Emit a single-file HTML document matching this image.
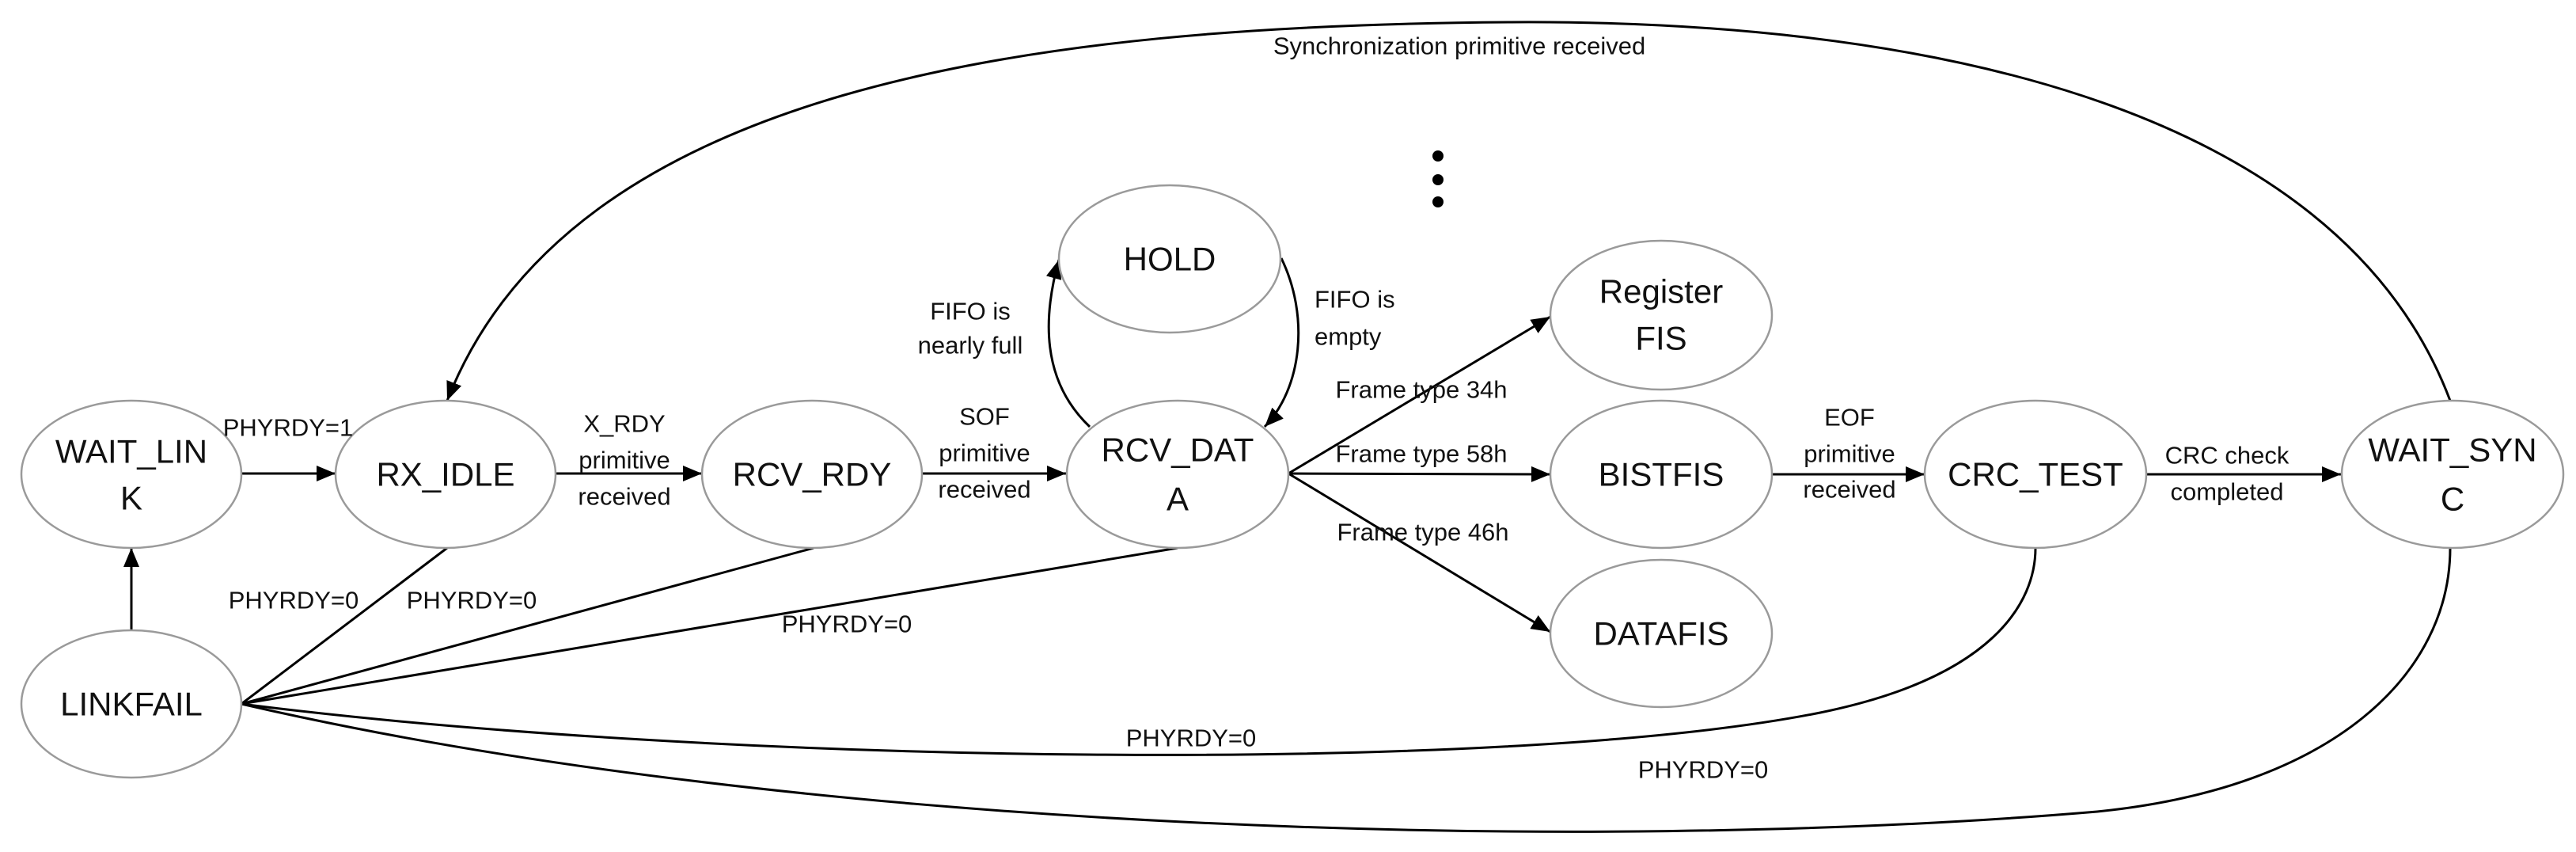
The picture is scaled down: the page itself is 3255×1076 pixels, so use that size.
<!DOCTYPE html>
<html><head><meta charset="utf-8"><style>
html,body{margin:0;padding:0;background:#fff;}
svg{display:block;}
text{font-family:"Liberation Sans",sans-serif;fill:#111;}
.n{font-size:42px;text-anchor:middle;dominant-baseline:central;}
.l{font-size:31px;text-anchor:middle;dominant-baseline:central;}
.e{fill:#fff;stroke:#9a9a9a;stroke-width:2.5;}
.c{fill:none;stroke:#000;stroke-width:3;}
</style></head><body>
<svg width="3255" height="1076" viewBox="0 0 3255 1076" xmlns="http://www.w3.org/2000/svg">
<defs>
<marker id="a" markerWidth="12" markerHeight="10" refX="11" refY="5" orient="auto" markerUnits="userSpaceOnUse" viewBox="0 0 12 10">
</marker>
<marker id="ar" viewBox="0 0 24 20" refX="24" refY="10" markerWidth="24" markerHeight="20" orient="auto" markerUnits="userSpaceOnUse"><path d="M0,0 L24,10 L0,20 Z" fill="#000"/></marker>
</defs>

<!-- connectors -->
<path class="c" d="M305,598 L424,598" marker-end="url(#ar)"/>
<path class="c" d="M166,795 L166,692" marker-end="url(#ar)"/>
<path class="c" d="M702,598 L887,598" marker-end="url(#ar)"/>
<path class="c" d="M1165,598 L1347,598" marker-end="url(#ar)"/>
<path class="c" d="M1377,539 C1315,480 1318,400 1338,328" marker-end="url(#ar)"/>
<path class="c" d="M1619,326 C1655,400 1645,490 1598,539" marker-end="url(#ar)"/>
<path class="c" d="M1628,598 L1959,400" marker-end="url(#ar)"/>
<path class="c" d="M1628,598 L1959,599" marker-end="url(#ar)"/>
<path class="c" d="M1628,598 L1959,798" marker-end="url(#ar)"/>
<path class="c" d="M2239,599 L2432,599" marker-end="url(#ar)"/>
<path class="c" d="M2713,599 L2958,599" marker-end="url(#ar)"/>
<path class="c" d="M305,889 L565,692"/>
<path class="c" d="M305,889 L1028,692"/>
<path class="c" d="M305,889 L1488,692"/>
<path class="c" d="M305,889 C900,965 1900,980 2300,900 C2520,855 2572,760 2572,692"/>
<path class="c" d="M305,889 C1000,1050 2000,1080 2650,1025 C2950,995 3096,850 3096,692"/>
<path class="c" d="M3096,506 C2950,120 2400,25 1909,28 C1300,32 720,110 565,506" marker-end="url(#ar)"/>

<!-- nodes -->
<ellipse class="e" cx="166" cy="599" rx="139" ry="93"/>
<text class="n" x="166" y="570">WAIT_LIN</text><text class="n" x="166" y="629">K</text>
<ellipse class="e" cx="563" cy="599" rx="139" ry="93"/>
<text class="n" x="563" y="599">RX_IDLE</text>
<ellipse class="e" cx="1026" cy="599" rx="139" ry="93"/>
<text class="n" x="1026" y="599">RCV_RDY</text>
<ellipse class="e" cx="166" cy="889" rx="139" ry="93"/>
<text class="n" x="166" y="889">LINKFAIL</text>
<ellipse class="e" cx="1478" cy="327" rx="140" ry="93"/>
<text class="n" x="1478" y="327">HOLD</text>
<ellipse class="e" cx="1488" cy="599" rx="140" ry="93"/>
<text class="n" x="1488" y="568">RCV_DAT</text><text class="n" x="1488" y="630">A</text>
<ellipse class="e" cx="2099" cy="398" rx="140" ry="94"/>
<text class="n" x="2099" y="368">Register</text><text class="n" x="2099" y="427">FIS</text>
<ellipse class="e" cx="2099" cy="599" rx="140" ry="93"/>
<text class="n" x="2099" y="599">BISTFIS</text>
<ellipse class="e" cx="2099" cy="800" rx="140" ry="93"/>
<text class="n" x="2099" y="800">DATAFIS</text>
<ellipse class="e" cx="2572" cy="599" rx="140" ry="93"/>
<text class="n" x="2572" y="599">CRC_TEST</text>
<ellipse class="e" cx="3099" cy="599" rx="140" ry="93"/>
<text class="n" x="3099" y="568">WAIT_SYN</text><text class="n" x="3099" y="630">C</text>

<!-- dots -->
<circle cx="1817" cy="197" r="7" fill="#000"/>
<circle cx="1817" cy="227" r="7" fill="#000"/>
<circle cx="1817" cy="255" r="7" fill="#000"/>

<!-- labels -->
<text class="l" x="364" y="540">PHYRDY=1</text>
<text class="l" x="789" y="535">X_RDY</text>
<text class="l" x="789" y="581">primitive</text>
<text class="l" x="789" y="627">received</text>
<text class="l" x="371" y="758">PHYRDY=0</text>
<text class="l" x="596" y="758">PHYRDY=0</text>
<text class="l" x="1070" y="788">PHYRDY=0</text>
<text class="l" x="1244" y="526">SOF</text>
<text class="l" x="1244" y="572">primitive</text>
<text class="l" x="1244" y="618">received</text>
<text class="l" x="1226" y="393">FIFO is</text>
<text class="l" x="1226" y="436">nearly full</text>
<text class="l" x="1661" y="378" style="text-anchor:start">FIFO is</text>
<text class="l" x="1661" y="425" style="text-anchor:start">empty</text>
<text class="l" x="1796" y="492">Frame type 34h</text>
<text class="l" x="1796" y="573">Frame type 58h</text>
<text class="l" x="1798" y="672">Frame type 46h</text>
<text class="l" x="2337" y="527">EOF</text>
<text class="l" x="2337" y="573">primitive</text>
<text class="l" x="2337" y="618">received</text>
<text class="l" x="2814" y="575">CRC check</text>
<text class="l" x="2814" y="621">completed</text>
<text class="l" x="1505" y="932">PHYRDY=0</text>
<text class="l" x="2152" y="972">PHYRDY=0</text>
<text class="l" x="1844" y="58">Synchronization primitive received</text>
</svg>
</body></html>
